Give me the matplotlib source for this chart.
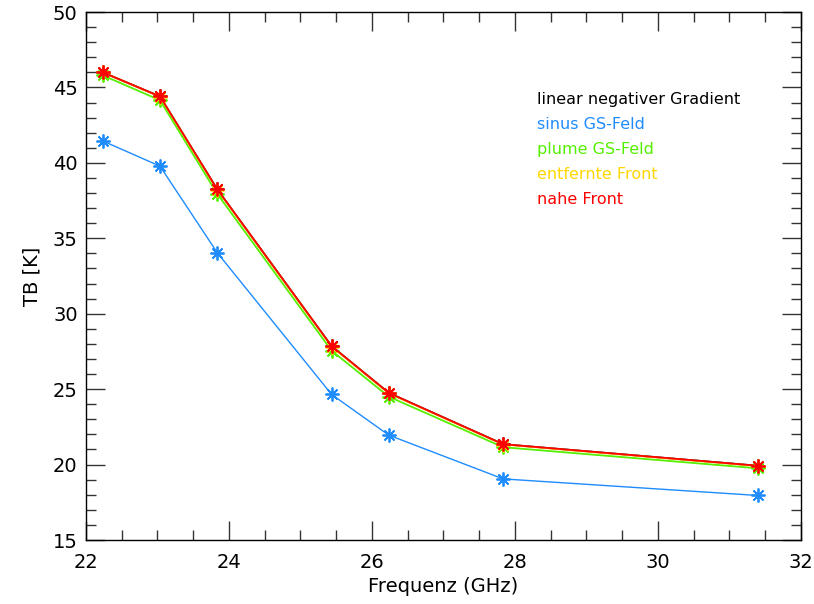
import matplotlib
matplotlib.use("Agg")
import matplotlib.pyplot as plt
from matplotlib.ticker import MultipleLocator

freq = [22.235, 23.035, 23.835, 25.435, 26.235, 27.835, 31.4]
linear_neg = [46.0, 44.4, 38.25, 27.85, 24.75, 21.35, 19.92]
sinus_gs = [41.45, 39.78, 34.05, 24.65, 21.95, 19.05, 17.95]
plume_gs = [45.8, 44.15, 37.95, 27.55, 24.5, 21.15, 19.75]
entf_front = [46.0, 44.38, 38.22, 27.82, 24.72, 21.33, 19.9]
nahe_front = [46.0, 44.4, 38.25, 27.85, 24.75, 21.35, 19.92]

labels = ["linear negativer Gradient", "sinus GS-Feld", "plume GS-Feld",
          "entfernte Front", "nahe Front"]
colors = ["#000000", "#1E8CFF", "#55F000", "#FFD700", "#FF0000"]
series = [linear_neg, sinus_gs, plume_gs, entf_front, nahe_front]
lws = [1.3, 1.0, 1.3, 1.3, 1.3]

fig = plt.figure(figsize=(8.14, 6.04), dpi=100)
ax = fig.add_axes([86/814, 1-540/604, 715/814, 528/604])

for vals, c, lw in zip(series, colors, lws):
    ax.plot(freq, vals, color=c, lw=lw, marker=(8, 2, 0), markersize=10,
            markeredgewidth=1.3, markeredgecolor=c)

ax.set_xlim(22, 32)
ax.set_ylim(15, 50)
ax.xaxis.set_major_locator(MultipleLocator(2))
ax.xaxis.set_minor_locator(MultipleLocator(0.5))
ax.yaxis.set_major_locator(MultipleLocator(5))
ax.yaxis.set_minor_locator(MultipleLocator(1))
ax.tick_params(which="both", direction="in", top=True, right=True, labelsize=14,
               color="#333333")
ax.tick_params(which="major", length=14, width=1)
ax.tick_params(which="minor", length=7, width=1)
ax.tick_params(axis="x", pad=9)
ax.tick_params(axis="y", pad=6)
for s in ax.spines.values():
    s.set_linewidth(1.0)

ax.set_xlabel("Frequenz (GHz)", fontsize=14, labelpad=4)
ax.set_ylabel("TB [K]", fontsize=14, labelpad=8)

for i, (lab, c) in enumerate(zip(labels, colors)):
    ax.text(0.631, 0.835 - i*0.0473, lab, color=c, fontsize=11.5,
            transform=ax.transAxes, va="center", ha="left")

fig.savefig("out.png", dpi=100)
